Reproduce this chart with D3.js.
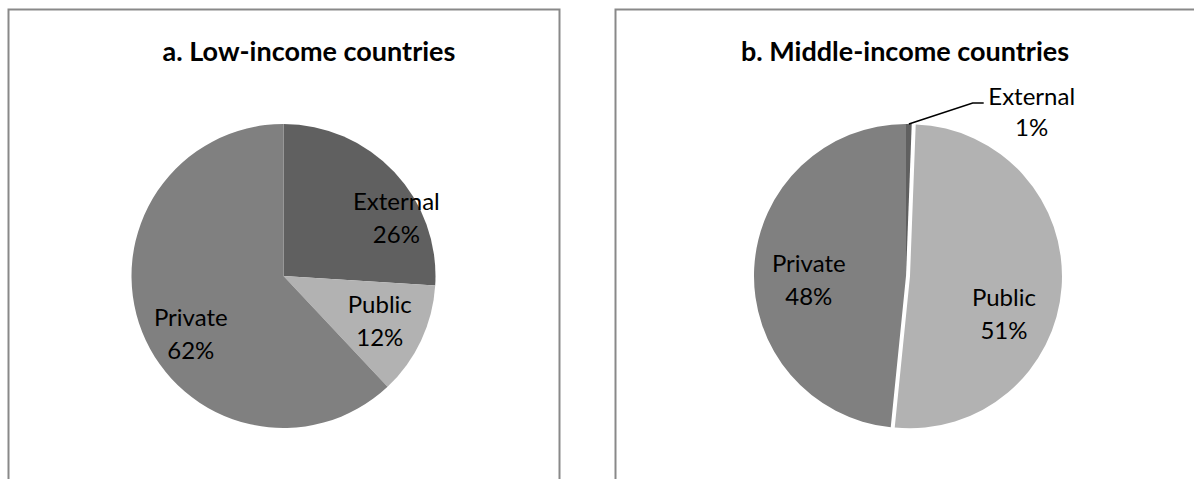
<!DOCTYPE html>
<html>
<head>
<meta charset="utf-8">
<script src="https://cdn.jsdelivr.net/npm/d3@7"></script>
<style>
  html, body { margin: 0; padding: 0; background: #fff; }
  svg { display: block; }
</style>
</head>
<body>
<svg id="chart" width="1194" height="479"></svg>
<script>
// ---- data ----
const panelTitles = ["a. Low-income countries", "b. Middle-income countries"];
const categories = ["External", "Public", "Private"];
const lowIncomeShares = [26, 12, 62];
const middleIncomeShares = [0.6, 51.0, 48.4];

// ---- styles / layout ----
const sliceColors = ["#606060", "#b2b2b2", "#808080"];
const W = 1194, H = 479;
const svg = d3.select("#chart");
const fontFamily = "Lato, 'Open Sans', 'Liberation Sans', sans-serif";

const panels = [
  { title: panelTitles[0], values: lowIncomeShares, x0: 8.5, x1: 559.5, titleX: 309, cx: 283.5, cy: 276, r: 152,
    // label placement relative to slice mid-angle: [angle offset (deg), radius factor]
    labels: [[16, 0.835], [0, 0.70], [-10.5, 0.72]], explode: [0, 0, 0], leader: [false, false, false] },
  { title: panelTitles[1], values: middleIncomeShares, x0: 615.5, x1: 1210, titleX: 905, cx: 906, cy: 276, r: 152,
    labels: [[20, 1.22], [17, 0.69], [-5, 0.64]], explode: [0, 4, 0], leader: [true, false, false] }
];

panels.forEach(p => {
  // panel border
  svg.append("rect")
    .attr("x", p.x0).attr("y", 9.5)
    .attr("width", p.x1 - p.x0).attr("height", H + 20)
    .attr("fill", "#fff").attr("stroke", "#898989").attr("stroke-width", 2);

  svg.append("text")
    .attr("x", p.titleX).attr("y", 61)
    .attr("text-anchor", "middle")
    .attr("font-family", fontFamily).attr("font-weight", "bold")
    .attr("font-size", 27).attr("fill", "#000")
    .text(p.title);

  const data = categories.map((c, i) => ({ cat: c, value: p.values[i], i }));
  const pie = d3.pie().sort(null).value(d => d.value);
  const arcs = pie(data);
  const arc = d3.arc().innerRadius(0).outerRadius(p.r);

  const g = svg.append("g").attr("transform", `translate(${p.cx},${p.cy})`);

  g.selectAll("path.slice").data(arcs).enter().append("path")
    .attr("class", "slice")
    .attr("d", arc)
    .attr("fill", d => sliceColors[d.data.i])
    .attr("transform", d => {
      const e = p.explode[d.data.i];
      const mid = (d.startAngle + d.endAngle) / 2;
      return `translate(${e * Math.sin(mid)},${-e * Math.cos(mid)})`;
    });

  arcs.forEach(d => {
    const i = d.data.i;
    const mid = (d.startAngle + d.endAngle) / 2;
    const [dAng, rf] = p.labels[i];
    const ang = mid + dAng * Math.PI / 180;
    const lx = rf * p.r * Math.sin(ang);
    const ly = -rf * p.r * Math.cos(ang);
    const pct = Math.round(d.data.value) + "%";
    const t = g.append("text")
      .attr("text-anchor", "middle")
      .attr("font-family", fontFamily).attr("font-size", 24).attr("fill", "#000");
    if (p.leader[i]) {
      const sx = p.r * Math.sin(mid), sy = -p.r * Math.cos(mid);
      g.append("polyline")
        .attr("points", `${sx},${sy} ${lx},${ly} ${lx + 11},${ly}`)
        .attr("fill", "none").attr("stroke", "#000").attr("stroke-width", 1.5);
      const ax = lx + 59;
      t.append("tspan").attr("x", ax).attr("y", ly + 2).text(d.data.cat);
      t.append("tspan").attr("x", ax).attr("y", ly + 33).text(pct);
    } else {
      t.append("tspan").attr("x", lx).attr("y", ly - 8).text(d.data.cat);
      t.append("tspan").attr("x", lx).attr("y", ly + 25).text(pct);
    }
  });
});
</script>
</body>
</html>
